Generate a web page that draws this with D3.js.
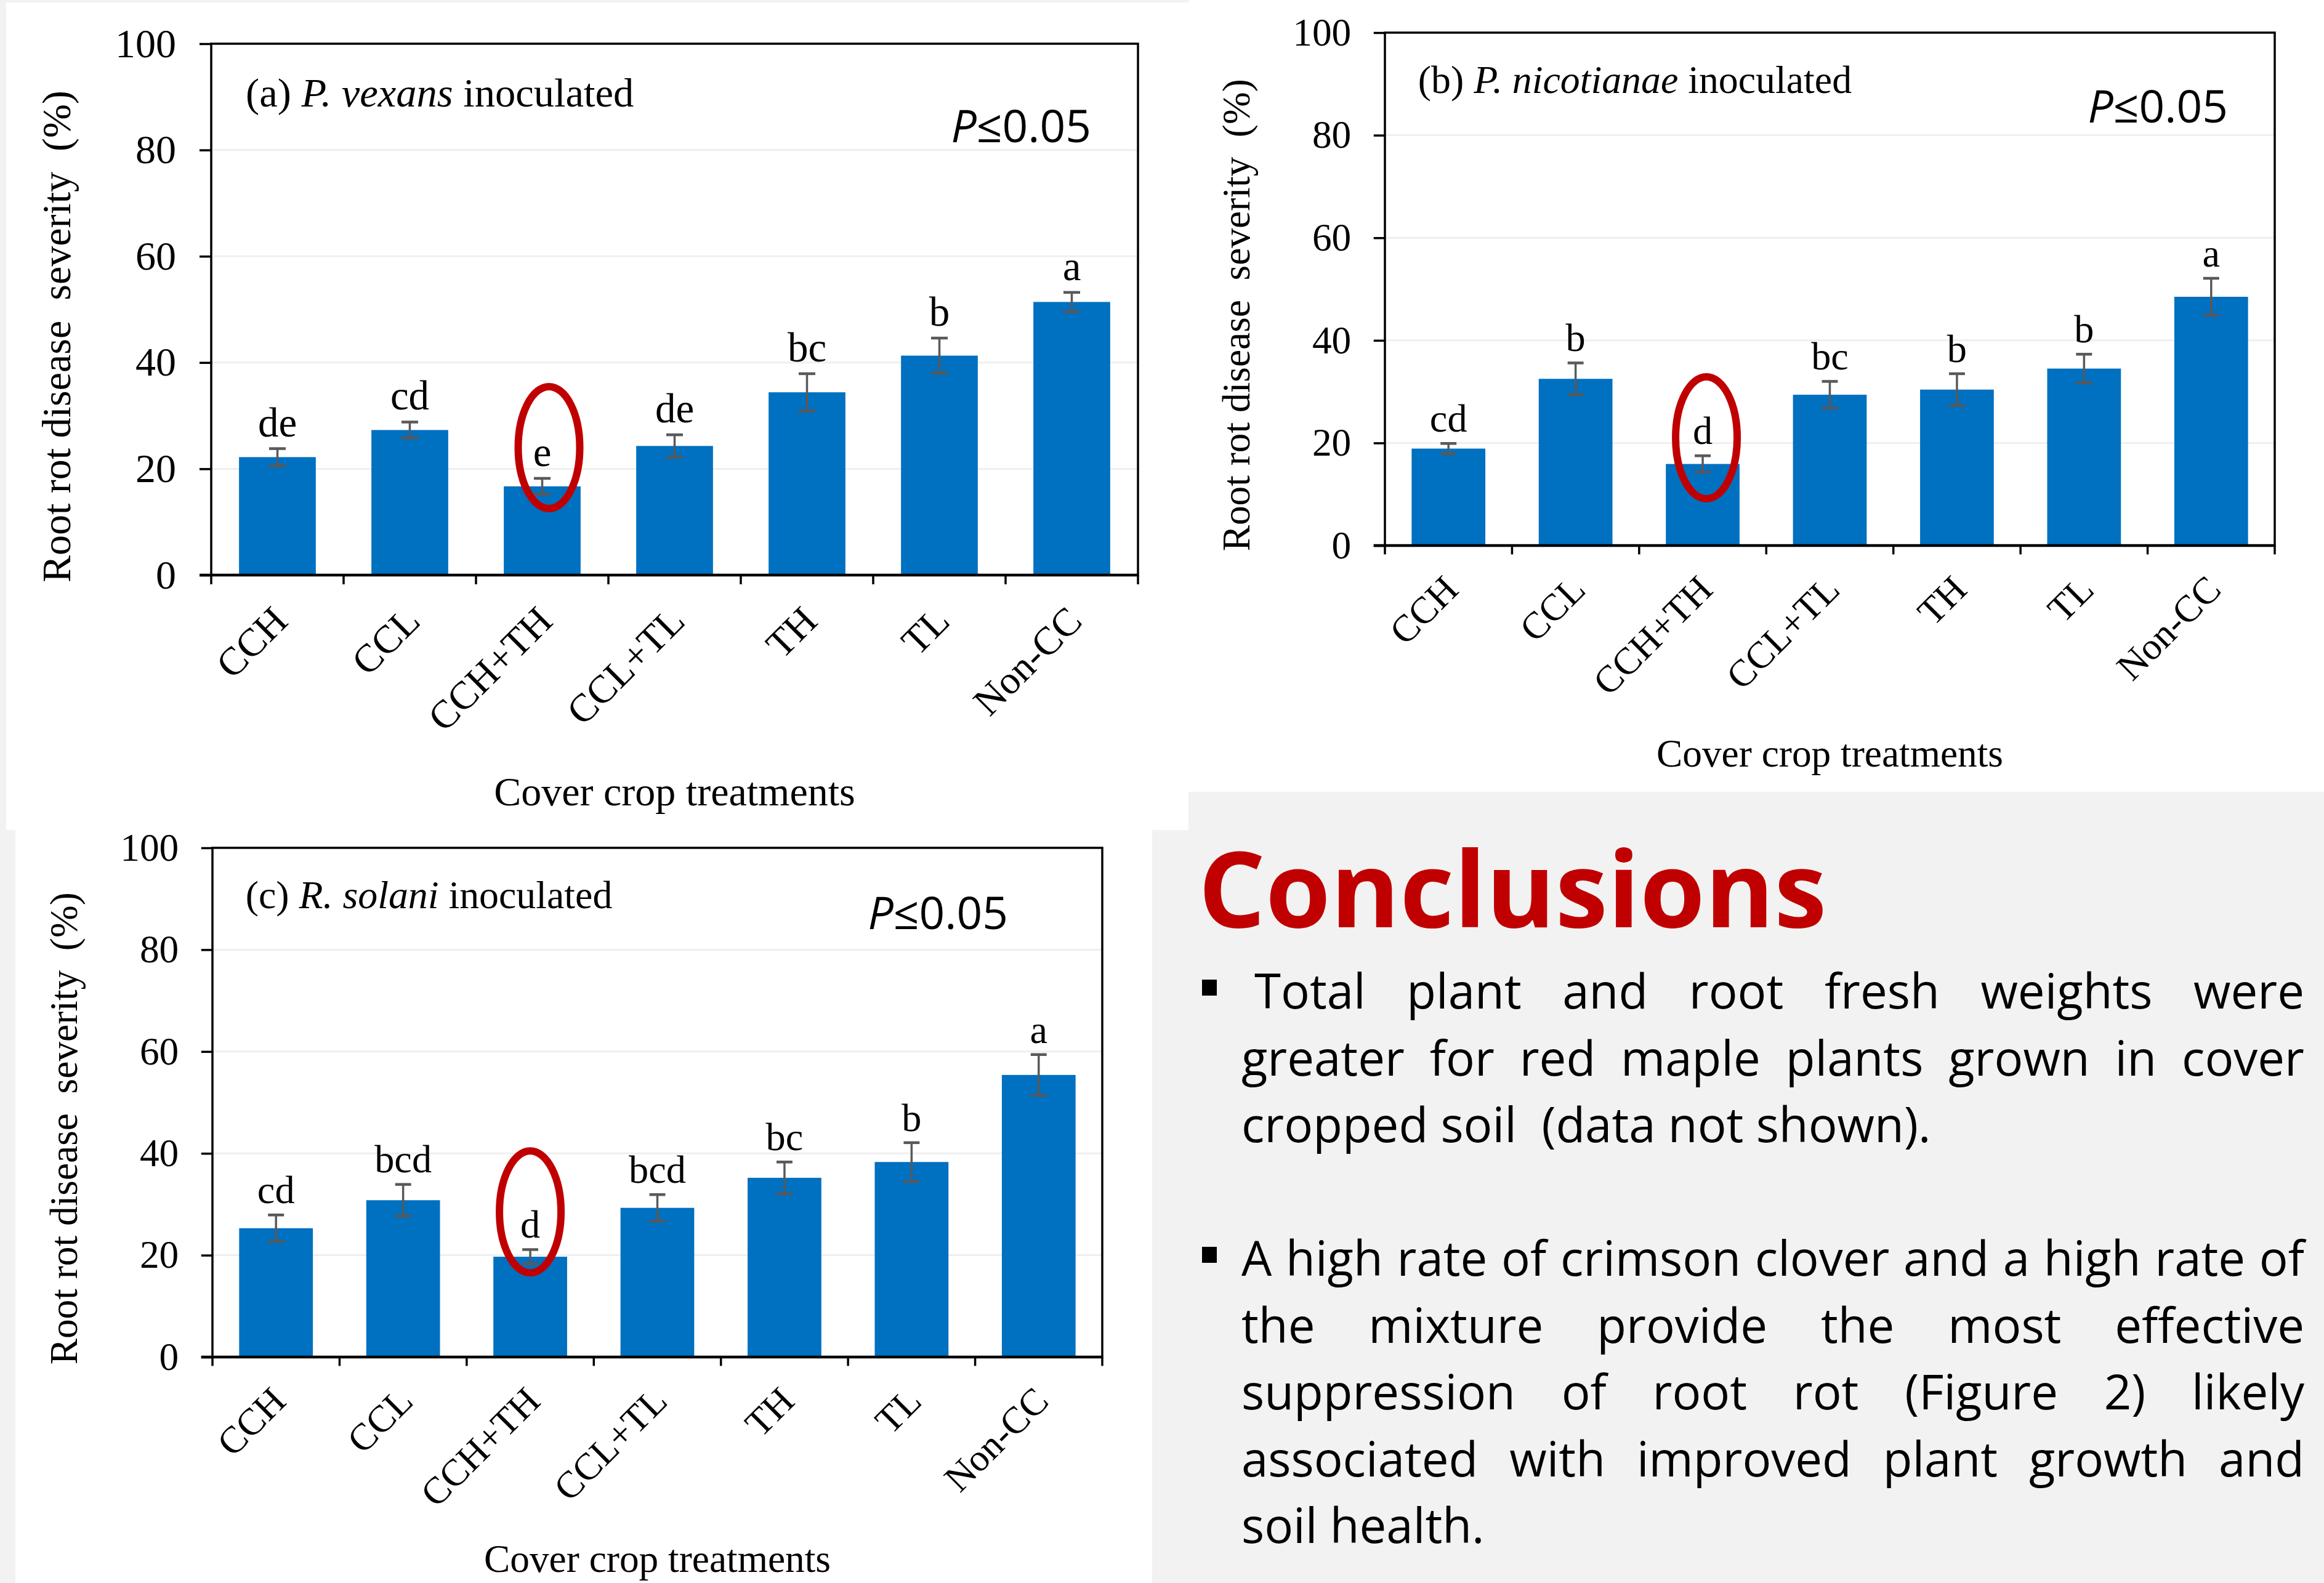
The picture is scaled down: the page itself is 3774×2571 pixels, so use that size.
<!DOCTYPE html>
<html>
<head>
<meta charset="utf-8">
<script src="https://cdn.jsdelivr.net/npm/d3@7"></script>
<style>
  html, body { margin: 0; padding: 0; background: #f2f2f2; }
  svg { display: block; }
</style>
</head>
<body>
<svg id="poster" width="3774" height="2571"></svg>
<script>
// Data
const categories = ["CCH", "CCL", "CCH+TH", "CCL+TL", "TH", "TL", "Non-CC"];
const yTicks = [0, 20, 40, 60, 80, 100];

const vexansMeans   = [22.2, 27.3, 16.7, 24.3, 34.4, 41.3, 51.4];
const vexansErrors  = [1.6, 1.5, 1.5, 2.1, 3.5, 3.3, 1.8];
const vexansLetters = ["de", "cd", "e", "de", "bc", "b", "a"];

const nicotianaeMeans   = [18.9, 32.5, 15.9, 29.4, 30.4, 34.5, 48.5];
const nicotianaeErrors  = [1.0, 3.1, 1.6, 2.6, 3.1, 2.8, 3.6];
const nicotianaeLetters = ["cd", "b", "d", "bc", "b", "b", "a"];

const solaniMeans   = [25.3, 30.8, 19.7, 29.3, 35.2, 38.3, 55.4];
const solaniErrors  = [2.6, 3.1, 1.4, 2.6, 3.1, 3.8, 4.0];
const solaniLetters = ["cd", "bcd", "d", "bcd", "bc", "b", "a"];

const conclusionParas = [
  [" Total plant and root fresh weights were",
   "greater for red maple plants grown in cover",
   "cropped soil  (data not shown)."],
  ["A high rate of crimson clover and a high rate of",
   "the mixture provide the most effective",
   "suppression of root rot (Figure 2) likely",
   "associated with improved plant growth and",
   "soil health."]
];

const serif = "'Liberation Serif', 'Times New Roman', serif";
const sans = "'Open Sans', 'Noto Sans', sans-serif";
const barColor = "#0070c0";
const errColor = "#595959";

const svg = d3.select("#poster");

// background blocks (white chart pictures on grey poster)
svg.append("rect").attr("width", 3774).attr("height", 2571).attr("fill", "#f2f2f2");
svg.append("rect").attr("x", 10).attr("y", 4).attr("width", 1920).attr("height", 1344).attr("fill", "#fff");
svg.append("rect").attr("x", 1930).attr("y", 0).attr("width", 1844).attr("height", 1286).attr("fill", "#fff");
svg.append("rect").attr("x", 25).attr("y", 1348).attr("width", 1846).attr("height", 1223).attr("fill", "#fff");

function drawPanel(cfg) {
  const s = cfg.scale;
  const g = svg.append("g");
  const bottom = cfg.top + cfg.height;
  const right = cfg.left + cfg.width;

  const x = d3.scaleBand()
    .domain(categories)
    .range([cfg.left, right])
    .paddingInner(0.42)
    .paddingOuter(0.21);
  const y = d3.scaleLinear().domain([0, 100]).range([bottom, cfg.top]);
  const bw = x.bandwidth();
  const halfGap = (x.step() - bw) / 2;

  // gridlines
  g.selectAll(".grid")
    .data(yTicks.filter(d => d > 0 && d < 100))
    .join("line")
    .attr("x1", cfg.left).attr("x2", right)
    .attr("y1", d => y(d)).attr("y2", d => y(d))
    .attr("stroke", "#efefef").attr("stroke-width", 3);

  // bars
  g.selectAll(".bar")
    .data(cfg.means)
    .join("rect")
    .attr("x", (d, i) => x(categories[i]))
    .attr("y", d => y(d))
    .attr("width", bw)
    .attr("height", d => y(0) - y(d))
    .attr("fill", barColor);

  // error bars
  const capW = 27 * s;
  cfg.means.forEach((m, i) => {
    const cx = x(categories[i]) + bw / 2;
    const e = cfg.errors[i];
    g.append("line").attr("x1", cx).attr("x2", cx)
      .attr("y1", y(m - e)).attr("y2", y(m + e))
      .attr("stroke", errColor).attr("stroke-width", 3.5);
    [m - e, m + e].forEach(v => {
      g.append("line").attr("x1", cx - capW / 2).attr("x2", cx + capW / 2)
        .attr("y1", y(v)).attr("y2", y(v))
        .attr("stroke", errColor).attr("stroke-width", 4.5);
    });
  });

  // significance letters
  g.selectAll(".letter")
    .data(cfg.letters)
    .join("text")
    .attr("x", (d, i) => x(categories[i]) + bw / 2)
    .attr("y", (d, i) => y(cfg.means[i] + cfg.errors[i]) - 20 * s)
    .attr("text-anchor", "middle")
    .style("font-family", serif)
    .style("font-size", (67 * s) + "px")
    .text(d => d);

  // y axis
  const yAxis = g.append("g")
    .attr("transform", `translate(${cfg.left},0)`)
    .call(d3.axisLeft(y).tickValues(yTicks).tickSize(19 * s).tickPadding(38 * s));
  yAxis.select(".domain").remove();
  yAxis.selectAll(".tick line").attr("stroke", "#000").attr("stroke-width", 3.5);
  yAxis.selectAll(".tick text")
    .style("font-family", serif)
    .style("font-size", (66 * s) + "px")
    .attr("fill", "#000");

  // x axis labels
  const xAxis = g.append("g")
    .attr("transform", `translate(0,${bottom})`)
    .call(d3.axisBottom(x).tickSize(0));
  xAxis.select(".domain").remove();
  xAxis.selectAll(".tick text")
    .attr("x", 0).attr("y", 0).attr("dy", 0)
    .attr("text-anchor", "end")
    .attr("transform", `translate(${20 * s},${78 * s}) rotate(-45)`)
    .style("font-family", serif)
    .style("font-size", (64 * s) + "px")
    .attr("fill", "#000");

  // x boundary ticks
  const bounds = categories.map(c => x(c) - halfGap).concat([right]);
  g.selectAll(".xtick")
    .data(bounds)
    .join("line")
    .attr("x1", d => d).attr("x2", d => d)
    .attr("y1", bottom).attr("y2", bottom + 15 * s)
    .attr("stroke", "#000").attr("stroke-width", 3.5);

  // frame
  g.append("rect")
    .attr("x", cfg.left).attr("y", cfg.top)
    .attr("width", cfg.width).attr("height", cfg.height)
    .attr("fill", "none").attr("stroke", "#000").attr("stroke-width", 3.5);
  g.append("line")
    .attr("x1", cfg.left - 19 * s).attr("x2", right)
    .attr("y1", bottom).attr("y2", bottom)
    .attr("stroke", "#000").attr("stroke-width", 4.5);

  // axis titles
  g.append("text")
    .attr("transform", `translate(${cfg.left - 229 * s},${(cfg.top + bottom) / 2 + 44 * s}) rotate(-90)`)
    .attr("text-anchor", "middle")
    .style("font-family", serif)
    .style("font-size", (66 * s) + "px")
    .style("white-space", "pre")
    .text("Root rot disease  severity  (%)");
  g.append("text")
    .attr("x", (cfg.left + right) / 2)
    .attr("y", bottom + cfg.xTitleGap * s)
    .attr("text-anchor", "middle")
    .style("font-family", serif)
    .style("font-size", (66 * s) + "px")
    .text("Cover crop treatments");

  // panel title
  const t = g.append("text")
    .attr("x", cfg.left + 56 * s)
    .attr("y", cfg.top + 102 * s)
    .style("font-family", serif)
    .style("font-size", (66.5 * s) + "px")
    .style("white-space", "pre");
  t.append("tspan").text(cfg.tag + " ");
  t.append("tspan").style("font-style", "italic").text(cfg.pathogen);
  t.append("tspan").text(" inoculated");

  // P value
  const p = g.append("text")
    .attr("x", right - cfg.pRight)
    .attr("y", cfg.top + cfg.pTop)
    .attr("text-anchor", "end")
    .style("font-family", sans)
    .style("font-size", "73px");
  p.append("tspan").style("font-style", "italic").text("P");
  p.append("tspan").text("≤0.05");

  // red highlight ellipse
  g.append("ellipse")
    .attr("cx", x(cfg.highlight) + bw / 2 + cfg.ellipseDx)
    .attr("cy", y(cfg.ellipseAt))
    .attr("rx", 50).attr("ry", 99)
    .attr("fill", "none")
    .attr("stroke", "#c00000")
    .attr("stroke-width", 12);
}

drawPanel({
  left: 343, top: 71, width: 1505, height: 863, scale: 1,
  means: vexansMeans, errors: vexansErrors, letters: vexansLetters,
  tag: "(a)", pathogen: "P. vexans",
  pRight: 76, pTop: 160, xTitleGap: 374,
  highlight: "CCH+TH", ellipseAt: 24.0, ellipseDx: 11
});

drawPanel({
  left: 2249, top: 53, width: 1445, height: 833, scale: 0.96,
  means: nicotianaeMeans, errors: nicotianaeErrors, letters: nicotianaeLetters,
  tag: "(b)", pathogen: "P. nicotianae",
  pRight: 76, pTop: 146, xTitleGap: 374,
  highlight: "CCH+TH", ellipseAt: 21.0, ellipseDx: 6
});

drawPanel({
  left: 345, top: 1377, width: 1445, height: 827, scale: 0.96,
  means: solaniMeans, errors: solaniErrors, letters: solaniLetters,
  tag: "(c)", pathogen: "R. solani",
  pRight: 153, pTop: 132, xTitleGap: 364,
  highlight: "CCH+TH", ellipseAt: 28.5, ellipseDx: 0
});

// Conclusions block
const concl = svg.append("g");
concl.append("text")
  .attr("x", 1946).attr("y", 1506)
  .attr("fill", "#c00000")
  .style("font-family", sans)
  .style("font-weight", "bold")
  .style("font-size", "171px")
  .text("Conclusions");

const textLeft = 2016, textRight = 3742, lineH = 108.5;
const paraStarts = [1638, 2072];

function drawLine(str, yBase, justify) {
  const t = concl.append("text")
    .attr("y", yBase)
    .style("font-family", sans)
    .style("font-size", "78px")
    .style("white-space", "pre")
    .attr("fill", "#000");
  if (!justify) {
    t.attr("x", textLeft).text(str);
    return;
  }
  const lead = str.startsWith(" ");
  const words = str.trim().split(/\s+/);
  const spans = words.map(w => t.append("tspan").text(w));
  const widths = spans.map(sp => sp.node().getComputedTextLength());
  const x0 = textLeft + (lead ? 21 : 0);
  const gap = (textRight - x0 - d3.sum(widths)) / (words.length - 1);
  let cx = x0;
  spans.forEach((sp, i) => { sp.attr("x", cx); cx += widths[i] + gap; });
}

conclusionParas.forEach((lines, pi) => {
  const y0 = paraStarts[pi];
  concl.append("rect")
    .attr("x", 1952).attr("y", y0 - 47)
    .attr("width", 24).attr("height", 26)
    .attr("fill", "#000");
  lines.forEach((ln, li) => {
    drawLine(ln, y0 + li * lineH, li < lines.length - 1);
  });
});
</script>
</body>
</html>
